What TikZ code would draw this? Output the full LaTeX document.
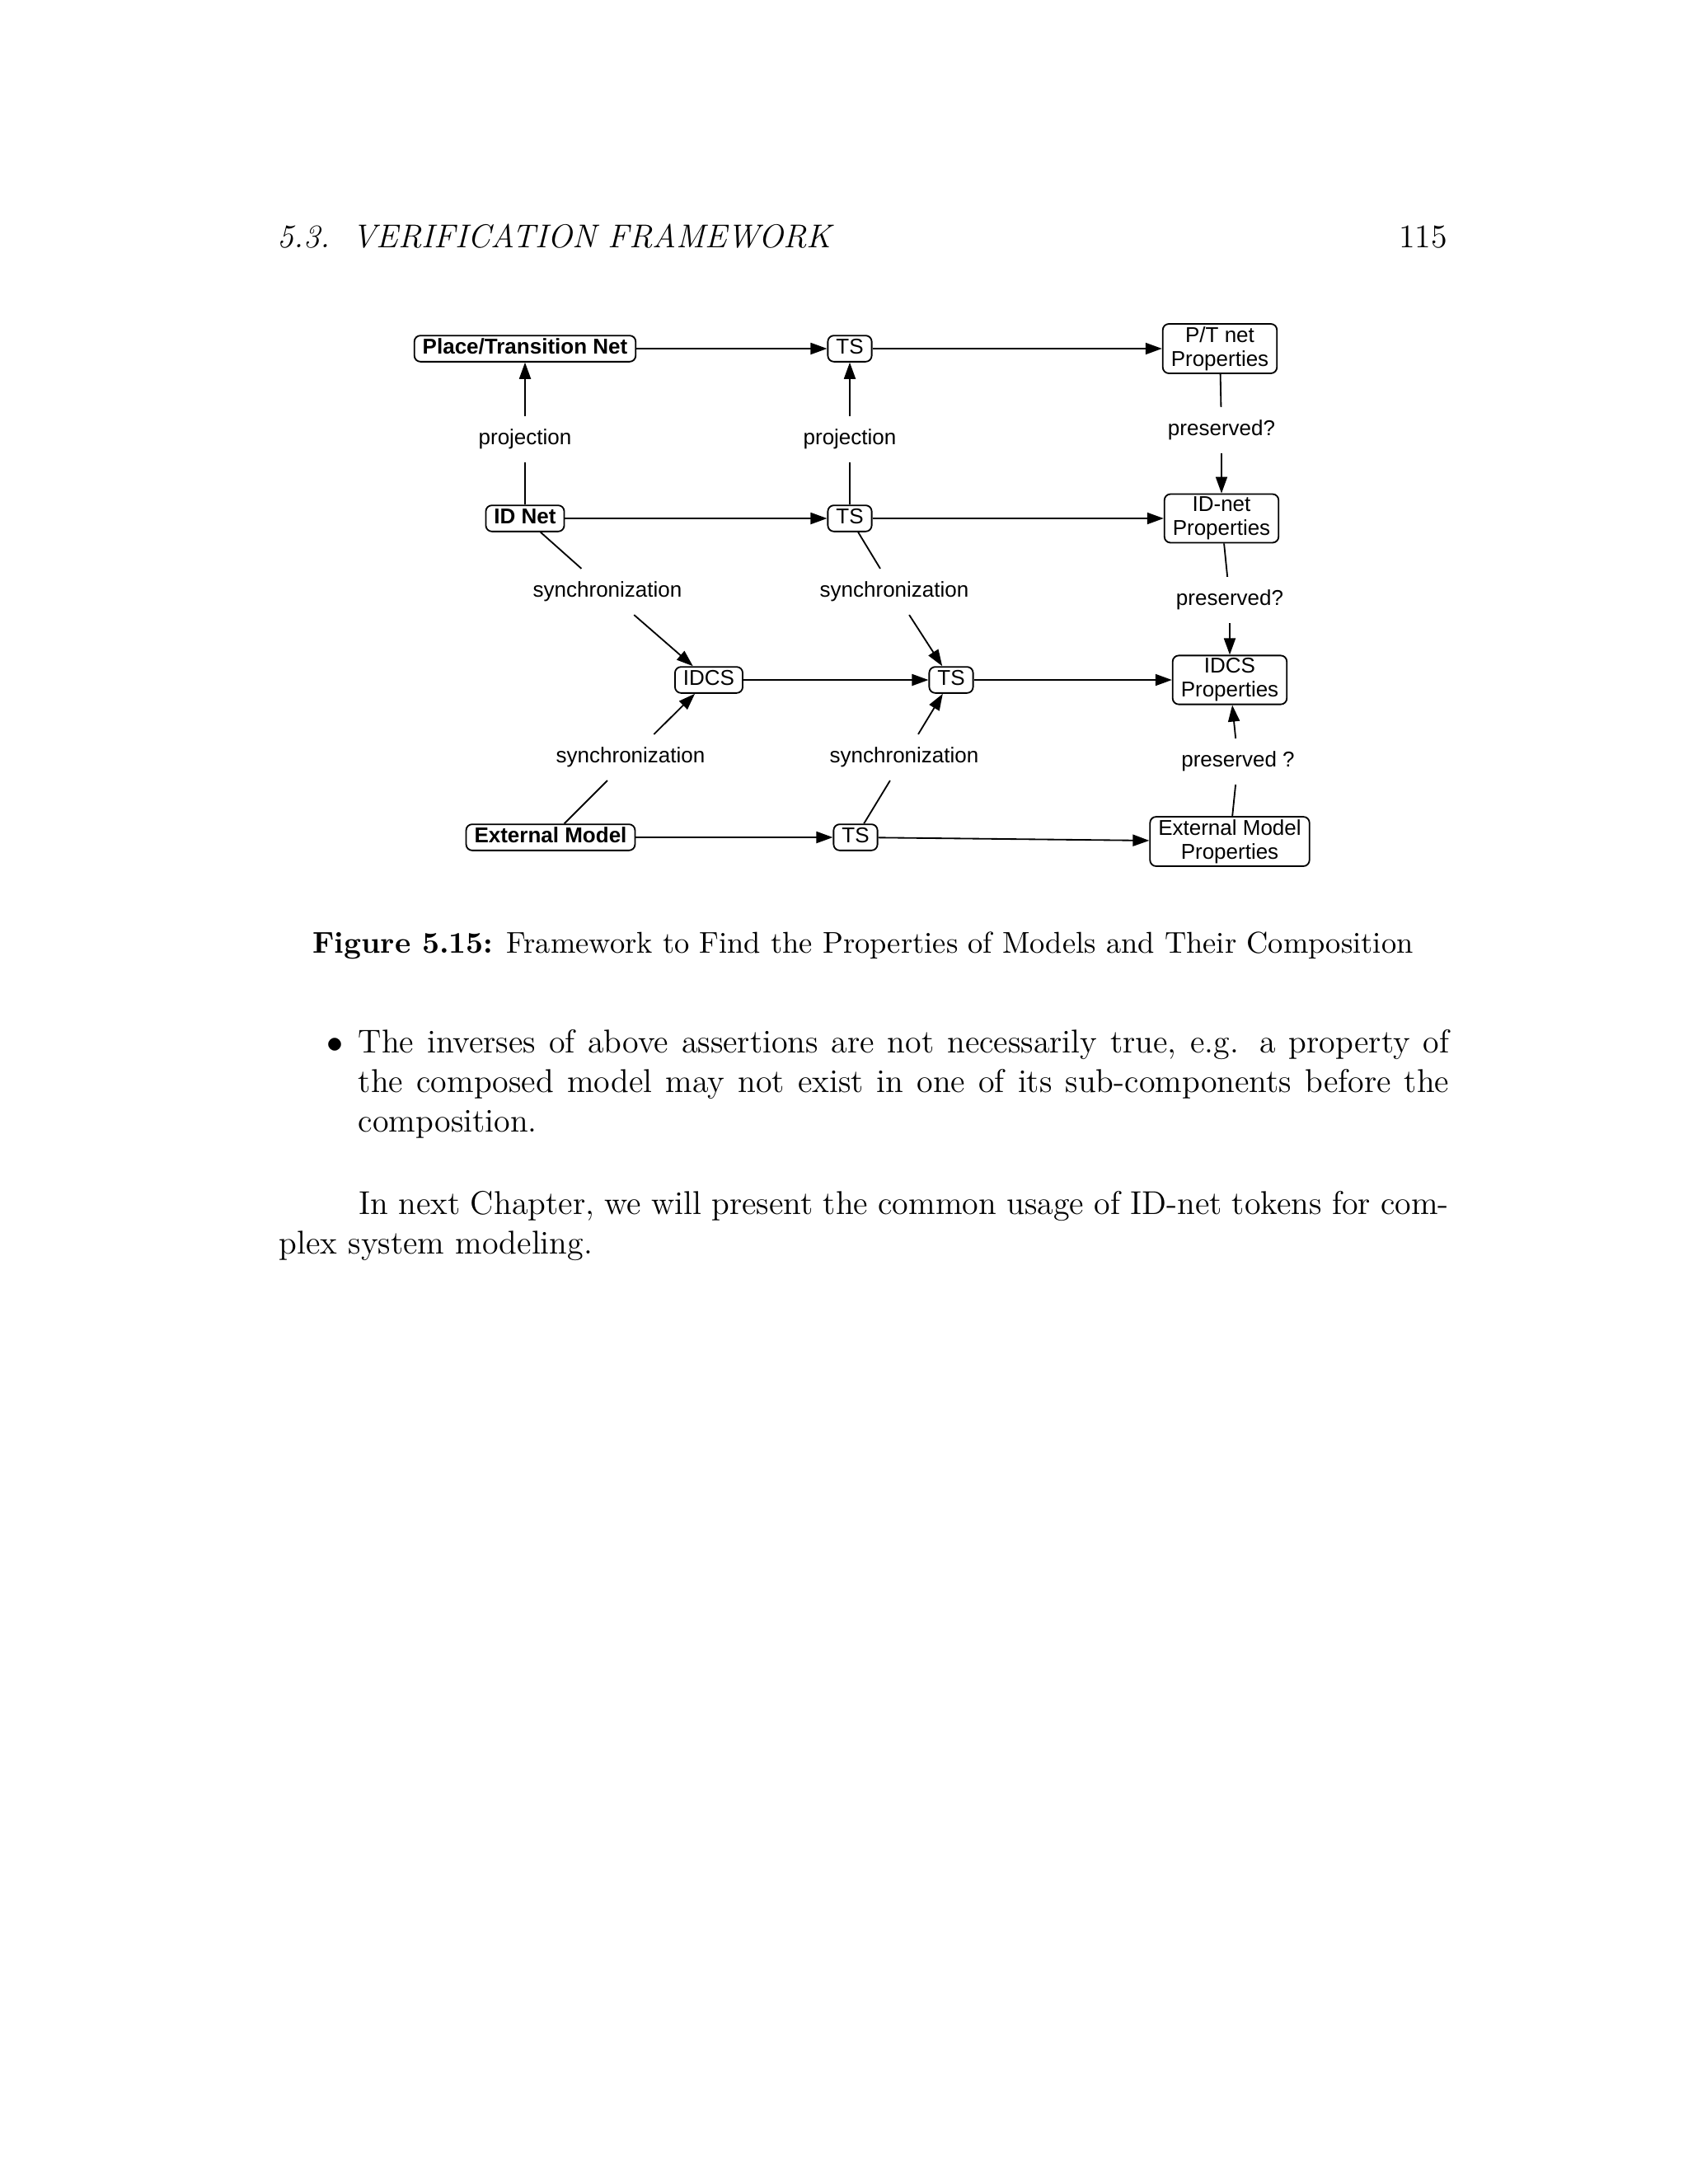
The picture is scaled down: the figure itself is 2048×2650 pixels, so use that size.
\documentclass[tikz,border=0pt]{standalone}
\usepackage{fontspec}
\newfontfamily\diagfont{Liberation Sans}
\usetikzlibrary{arrows.meta}
\newcommand{\diagsize}{\diagfont\fontsize{7.8}{8.7}\selectfont}
\newcommand{\bodysize}{\fontsize{12}{14.4}\selectfont}
\newcommand{\captsize}{\fontsize{10.95}{13.6}\selectfont}

\begin{document}
\begin{tikzpicture}[x=0.3pt, y=-0.3pt, line width=0.55pt,
		>={Triangle[length=6pt,width=4.2pt]},
		box/.style={draw, rounded corners=2.2pt, inner xsep=3pt, inner ysep=1pt, align=center, font=\diagsize},
		onebox/.style={box, text height=5.8pt, text depth=1.7pt},
		boldbox/.style={onebox, font=\diagsize\bfseries},
		edgelabel/.style={inner xsep=1pt, inner ysep=4.4pt, text height=5.8pt, text depth=1.7pt, font=\diagsize}]
		\useasboundingbox (0,0) rectangle (2048,2650);
		
		% running head
		\node[anchor=base west, inner sep=0, font=\bodysize] (head) at (336,300) {\textit{5.3.\hspace{8pt}VERIFICATION FRAMEWORK}};
		\node[anchor=base east, inner sep=0, font=\bodysize] (pageno) at (1757,300) {115};
		
		% models
		\node[boldbox] (ptnet) at (637,423) {Place/Transition Net};
		\node[boldbox] (idnet) at (637,629) {ID Net};
		\node[onebox] (idcs) at (860,825) {IDCS};
		\node[boldbox] (ext) at (668,1016) {External Model};
		
		% transition systems
		\node[onebox] (ts1) at (1031,423) {TS};
		\node[onebox] (ts2) at (1031,629) {TS};
		\node[onebox] (ts3) at (1154,825) {TS};
		\node[onebox] (ts4) at (1038,1016) {TS};
		
		% properties
		\node[box] (ptprop) at (1480,423) {P/T net\\Properties};
		\node[box] (idprop) at (1482,629) {ID-net\\Properties};
		\node[box] (idcsprop) at (1492,825) {IDCS\\Properties};
		\node[box] (extprop) at (1492,1021) {External Model\\Properties};
		
		% labels
		\node[edgelabel] (proj1) at (637,533) {projection};
		\node[edgelabel] (proj2) at (1031,533) {projection};
		\node[edgelabel] (sync1) at (737,718) {synchronization};
		\node[edgelabel] (sync2) at (1085,718) {synchronization};
		\node[edgelabel] (sync3) at (765,919) {synchronization};
		\node[edgelabel] (sync4) at (1097,919) {synchronization};
		\node[edgelabel] (pres1) at (1482,522) {preserved?};
		\node[edgelabel] (pres2) at (1492,728) {preserved?};
		\node[edgelabel] (pres3) at (1502,924) {preserved ?};
		
		% rows
		\draw[->] (ptnet) -- (ts1);
		\draw[->] (ts1) -- (ptprop);
		\draw[->] (idnet) -- (ts2);
		\draw[->] (ts2) -- (idprop);
		\draw[->] (idcs) -- (ts3);
		\draw[->] (ts3) -- (idcsprop);
		\draw[->] (ext) -- (ts4);
		\draw[->] (ts4) -- (extprop);
		
		% projections
		\draw (idnet) -- (proj1);
		\draw[->] (proj1) -- (ptnet);
		\draw (ts2) -- (proj2);
		\draw[->] (proj2) -- (ts1);
		
		% synchronizations
		\draw (idnet) -- (sync1);
		\draw[->] (sync1) -- (idcs);
		\draw (ext) -- (sync3);
		\draw[->] (sync3) -- (idcs);
		\draw (ts2) -- (sync2);
		\draw[->] (sync2) -- (ts3);
		\draw (ts4) -- (sync4);
		\draw[->] (sync4) -- (ts3);
		
		% preservation
		\draw (ptprop) -- (pres1);
		\draw[->] (pres1) -- (idprop);
		\draw (idprop) -- (pres2);
		\draw[->] (pres2) -- (idcsprop);
		\draw (extprop) -- (pres3);
		\draw[->] (pres3) -- (idcsprop);
		
		% caption and text
		\node[anchor=base, inner sep=0, font=\captsize] (caption) at (1047,1156) {\textbf{Figure 5.15:} Framework to Find the Properties of Models and Their Composition};
		
		\node[anchor=base, inner sep=0, font=\bodysize] (bullet) at (406,1277) {$\bullet$};
		\node[anchor=base west, inner sep=0, text width=397pt, align=justify, font=\bodysize] (item) at (434,1277)
		{The inverses of above assertions are not necessarily true, e.g. a property of\linebreak
		the composed model may not exist in one of its sub-components before the\linebreak
		composition.};
		
		\node[anchor=base west, inner sep=0, text width=425.7pt, align=justify, font=\bodysize] (para) at (338,1473)
		{\hspace*{29pt}In next Chapter, we will present the common usage of ID-net tokens for com-\linebreak
		plex system modeling.};
	\end{tikzpicture}
\end{document}
